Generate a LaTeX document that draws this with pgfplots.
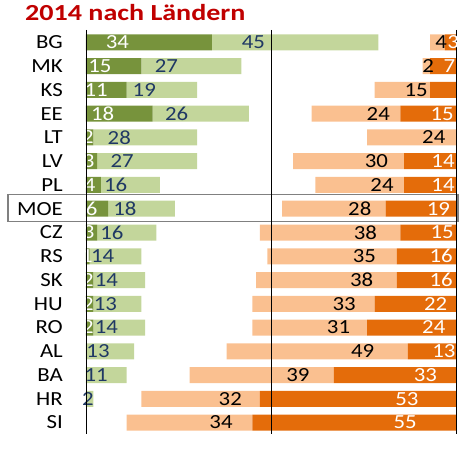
\documentclass[border=0pt]{standalone}
\usepackage{fontspec}
\setmainfont{Carlito}[FakeStretch=1.14]
\newfontfamily\titlefont{Carlito}[FakeStretch=1.22]
\usepackage{pgfplots}
\pgfplotsset{compat=1.18}

\definecolor{dgreen}{HTML}{77933C}
\definecolor{lgreen}{HTML}{C3D69B}
\definecolor{dorange}{HTML}{E46C0A}
\definecolor{lorange}{HTML}{FAC090}
\definecolor{navy}{HTML}{1F3864}
\definecolor{titlered}{HTML}{C00000}
\definecolor{boxgray}{HTML}{808080}

% the node style is applied twice, hence /4 for a shift of half a segment
\pgfplotsset{
  base/.style={
    scale only axis, width=370bp, height=404bp,
    xmin=0, xmax=100, ymin=-0.526, ymax=16.484,
    y dir=reverse,
    xbar stacked, bar width=16bp,
    axis line style={draw=none},
    major tick length=0pt,
    clip=false,
    point meta=explicit symbolic,
    visualization depends on={rawx \as \rawxval},
    nodes near coords,
    every node near coord/.append style={anchor=center, inner sep=0pt,
      font=\fontsize{20bp}{24bp}\selectfont,
      shift={(axis direction cs:-\rawxval/4,0)}},
  },
}

\begin{document}
\begin{tikzpicture}
% left side: green, from the left edge
\begin{axis}[base, name=L,
  xtick=\empty,
  ytick={0,...,16},
  yticklabels={BG,MK,KS,EE,LT,LV,PL,MOE,CZ,RS,SK,HU,RO,AL,BA,HR,SI},
  yticklabel style={anchor=east, inner sep=0pt, xshift=-23bp,
    font=\fontsize{20bp}{24bp}\selectfont},
]
\addplot[fill=dgreen, draw=none, every node near coord/.append style={text=white}]
  coordinates {(34,0)[34] (15,1)[15] (11,2)[11] (18,3)[18] (2,4)[2] (3,5)[3]
    (4,6)[4] (6,7)[6] (3,8)[3] (1,9)[1] (2,10)[2] (2,11)[2] (2,12)[2]
    (0,13)[] (0,14)[] (0,15)[] (0,16)[]};
\addplot[fill=lgreen, draw=none, every node near coord/.append style={text=navy}]
  coordinates {(45,0)[45] (27,1)[27] (19,2)[19] (26,3)[26] (28,4)[28] (27,5)[27]
    (16,6)[16] (18,7)[18] (16,8)[16] (14,9)[14] (14,10)[14] (13,11)[13]
    (14,12)[14] (13,13)[13] (11,14)[11] (2,15)[2] (0,16)[]};
\node[anchor=base west, text=titlered, inner sep=0pt,
  font=\titlefont\bfseries\fontsize{23bp}{27bp}\selectfont]
  at ([xshift=-61bp, yshift=9bp]axis cs:0,-0.526) {2014 nach Ländern};
\end{axis}
% right side: orange, from the right edge
\begin{axis}[base,
  x dir=reverse,
  ytick=\empty,
  xtick={0,50,100}, xticklabels={},
  xmajorgrids, grid style={black, line width=0.9bp},
  axis on top,
]
\addplot[fill=dorange, draw=none, every node near coord/.append style={text=white}]
  coordinates {(3,0)[3] (7,1)[7] (7,2)[] (15,3)[15] (0,4)[0] (14,5)[14]
    (14,6)[14] (19,7)[19] (15,8)[15] (16,9)[16] (16,10)[16] (22,11)[22]
    (24,12)[24] (13,13)[13] (33,14)[33] (53,15)[53] (55,16)[55]};
\addplot[fill=lorange, draw=none, every node near coord/.append style={text=black}]
  coordinates {(4,0)[4] (2,1)[2] (15,2)[15] (24,3)[24] (24,4)[24] (30,5)[30]
    (24,6)[24] (28,7)[28] (38,8)[38] (35,9)[35] (38,10)[38] (33,11)[33]
    (31,12)[31] (49,13)[49] (39,14)[39] (32,15)[32] (34,16)[34]};
\draw[boxgray, line width=1.3bp]
  ([xshift=-78bp, yshift=14.4bp]axis cs:100,7) rectangle
  ([xshift=2bp, yshift=-13bp]axis cs:0,7);
\end{axis}
\pgfresetboundingbox
\path[use as bounding box] ([xshift=-86bp, yshift=-17bp]L.south west)
  rectangle ([xshift=6bp, yshift=30bp]L.north east);
\end{tikzpicture}
\end{document}
